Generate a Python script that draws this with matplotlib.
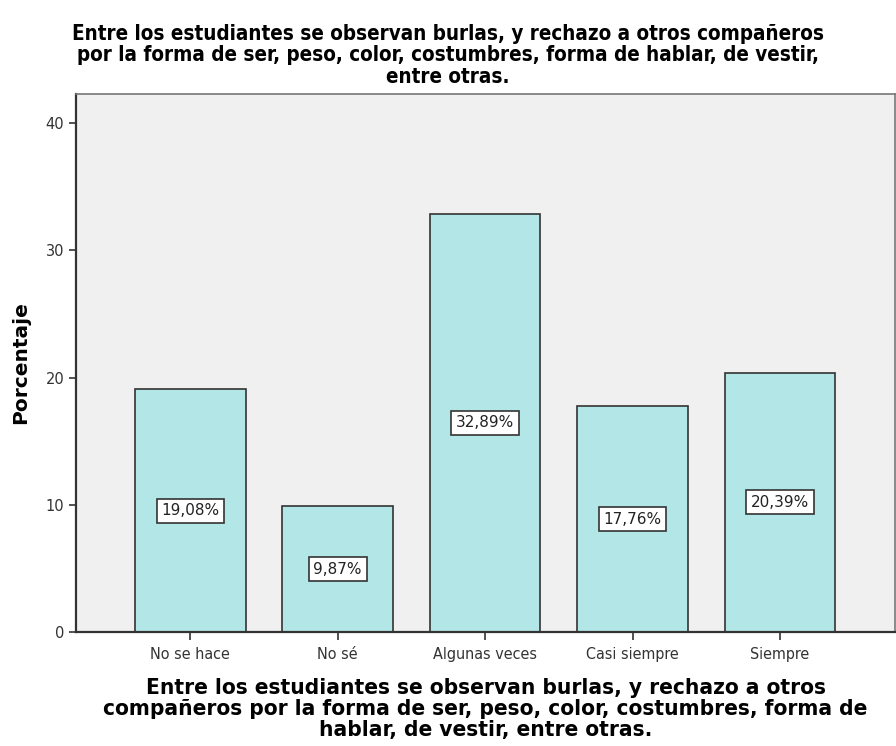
import matplotlib
matplotlib.use("Agg")
import matplotlib.pyplot as plt

categorias = ["No se hace", "No sé", "Algunas veces", "Casi siempre", "Siempre"]
porcentajes = [19.08, 9.87, 32.89, 17.76, 20.39]
yticks = [0, 10, 20, 30, 40]

titulo = ("Entre los estudiantes se observan burlas, y rechazo a otros compañeros\n"
          "por la forma de ser, peso, color, costumbres, forma de hablar, de vestir,\n"
          "entre otras.")
etiqueta_x = ("Entre los estudiantes se observan burlas, y rechazo a otros\n"
              "compañeros por la forma de ser, peso, color, costumbres, forma de\n"
              "hablar, de vestir, entre otras.")

fig = plt.figure(figsize=(8.96, 7.46), dpi=100)
ax = fig.add_axes([76 / 896, 114 / 746, 819 / 896, 538 / 746])
ax.set_facecolor("#f0f0f0")

x = range(len(categorias))
ax.bar(x, porcentajes, width=0.75, color="#b3e6e6", edgecolor="#333333", linewidth=1.2, zorder=2)

for i, v in enumerate(porcentajes):
    ax.text(i, v / 2, f"{v:.2f}%".replace(".", ","), ha="center", va="center",
            fontsize=11, color="#222222", zorder=3,
            bbox=dict(boxstyle="square,pad=0.3", facecolor="white", edgecolor="#333333", linewidth=1.2))

ax.set_xlim(-0.775, 4.78)
ax.set_ylim(0, 42.3)
ax.set_yticks(yticks)
ax.set_xticks(list(x))
ax.set_xticklabels(categorias, fontstretch="condensed", fontsize=11.5, color="#222222")
ax.tick_params(axis="y", labelsize=10.5, colors="#333333", length=5, width=1.2)
ax.tick_params(axis="x", length=6, width=1.2, colors="#333333", pad=5)

for s in ["left", "bottom"]:
    ax.spines[s].set_linewidth(1.6)
    ax.spines[s].set_color("#333333")
for s in ["top", "right"]:
    ax.spines[s].set_linewidth(1.2)
    ax.spines[s].set_color("#777777")

ax.set_ylabel("Porcentaje", fontsize=14.5, fontweight="bold", labelpad=11)
ax.set_xlabel(etiqueta_x, fontstretch="condensed", fontsize=16.2, fontweight="bold",
              labelpad=11, linespacing=1.08)
fig.text(0.5, 0.968, titulo, ha="center", va="top", fontstretch="condensed",
         fontsize=14.8, fontweight="bold", linespacing=1.1)

fig.savefig("out.png", dpi=100)
